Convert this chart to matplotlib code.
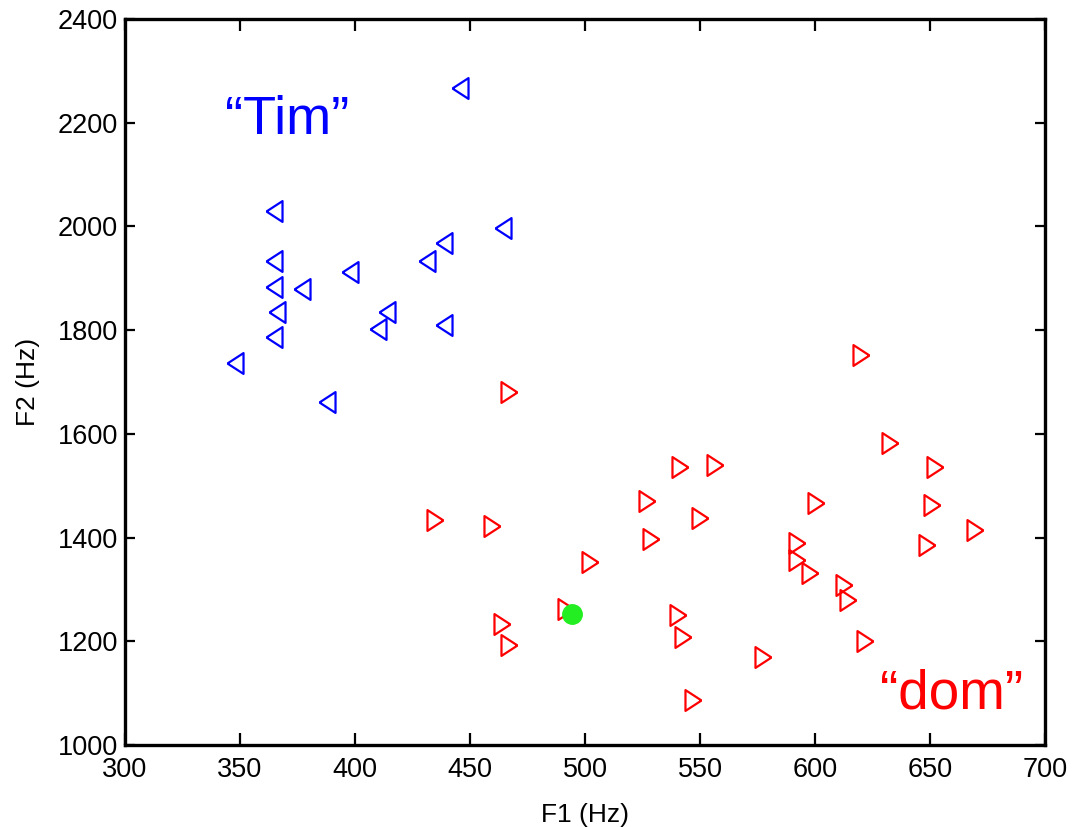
import matplotlib
matplotlib.use("Agg")
import matplotlib.pyplot as plt
import numpy as np

plt.rcParams['font.family'] = ['Liberation Sans', 'DejaVu Sans']

# "Tim" tokens (blue, left-pointing triangles)
tim_f1 = [445.7, 364.8, 464.3, 438.5, 431.3, 364.8, 398.0, 364.8, 377.0, 365.9,
          413.9, 410.0, 438.5, 364.8, 348.0, 387.8]
tim_f2 = [2267, 2030, 1997, 1968, 1933, 1933, 1912, 1883, 1879, 1835,
          1835, 1802, 1810, 1786, 1737, 1662]

# "dom" tokens (red, right-pointing triangles)
dom_f1 = [466.8, 541.5, 556.3, 527.0, 434.7, 549.8, 459.4, 528.7, 502.0, 491.7,
          540.4, 464.1, 542.6, 467.0, 547.0, 619.8, 632.8, 652.0, 600.6, 651.0,
          669.7, 592.2, 648.6, 592.2, 597.8, 612.5, 614.3, 621.6, 577.4]
dom_f2 = [1680, 1536, 1540, 1471, 1434, 1438, 1422, 1397, 1352, 1263,
          1251, 1234, 1208, 1193, 1087, 1752, 1582, 1536, 1467, 1463,
          1414, 1390, 1385, 1357, 1332, 1309, 1280, 1201, 1170]

# test token (green dot)
test_f1 = [494.2]
test_f2 = [1252]

x_ticks = [300, 350, 400, 450, 500, 550, 600, 650, 700]
y_ticks = [1000, 1200, 1400, 1600, 1800, 2000, 2200, 2400]

fig = plt.figure(figsize=(10.75, 8.27), dpi=100)
ax = fig.add_axes([0.1163, 0.0992, 0.8558, 0.8778])

left_tri = [(-0.77, 0.0), (0.77, 1.0), (0.77, -1.0), (-0.77, 0.0)]
right_tri = [(0.77, 0.0), (-0.77, 1.0), (-0.77, -1.0), (0.77, 0.0)]

ax.plot(tim_f1, tim_f2, linestyle='none', marker=left_tri, markersize=15,
        markerfacecolor='none', markeredgecolor='#0000ff', markeredgewidth=1.6)
ax.plot(dom_f1, dom_f2, linestyle='none', marker=right_tri, markersize=15,
        markerfacecolor='none', markeredgecolor='#ff0000', markeredgewidth=1.6)
ax.plot(test_f1, test_f2, linestyle='none', marker='o', markersize=14,
        markerfacecolor='#22ee22', markeredgecolor='#22ee22')

ax.text(343.6, 2178, '\u201cTim\u201d', color='#0000ff', fontsize=39,
        ha='left', va='baseline')
ax.text(690.5, 1071, '\u201cdom\u201d', color='#ff0000', fontsize=39.5,
        ha='right', va='baseline')

ax.set_xlim(300, 700)
ax.set_ylim(1000, 2400)
ax.set_xticks(x_ticks)
ax.set_yticks(y_ticks)
ax.tick_params(direction='in', width=1.6, labelsize=19.5,
               top=True, right=True)
ax.tick_params(axis='x', length=8.5, pad=9)
ax.tick_params(axis='y', length=7, pad=5)
for s in ax.spines.values():
    s.set_linewidth(2.4)

ax.set_xlabel('F1 (Hz)', fontsize=19, labelpad=14)
ax.set_ylabel('F2 (Hz)', fontsize=19, labelpad=13)

fig.savefig('out.png', dpi=100)
